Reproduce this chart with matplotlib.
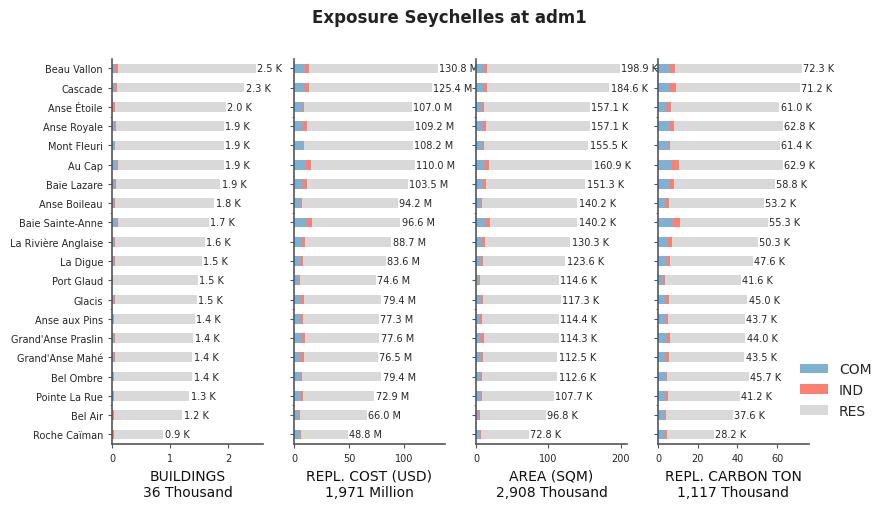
import numpy as np
import matplotlib
matplotlib.use("Agg")
import matplotlib.pyplot as plt
from matplotlib.ticker import MultipleLocator, FixedLocator
import seaborn as sns

sns.set_style("ticks")
plt.rcParams['font.family'] = ['DejaVu Sans']

regions = ["Beau Vallon", "Cascade", "Anse Étoile", "Anse Royale", "Mont Fleuri",
           "Au Cap", "Baie Lazare", "Anse Boileau", "Baie Sainte-Anne",
           "La Rivière Anglaise", "La Digue", "Port Glaud", "Glacis", "Anse aux Pins",
           "Grand'Anse Praslin", "Grand'Anse Mahé", "Bel Ombre", "Pointe La Rue",
           "Bel Air", "Roche Caïman"]

# buildings, thousands
bld_com = [0.05, 0.05, 0.025, 0.05, 0.05, 0.08, 0.05, 0.03, 0.08, 0.03,
           0.03, 0.015, 0.03, 0.03, 0.03, 0.03, 0.03, 0.03, 0.01, 0.01]
bld_ind = [0.05, 0.04, 0.03, 0.02, 0.005, 0.03, 0.02, 0.02, 0.03, 0.02,
           0.02, 0.005, 0.02, 0.005, 0.02, 0.02, 0.005, 0.005, 0.03, 0.03]
bld_res = [2.37, 2.18, 1.905, 1.85, 1.865, 1.81, 1.79, 1.71, 1.55, 1.54,
           1.49, 1.45, 1.41, 1.385, 1.35, 1.33, 1.345, 1.295, 1.17, 0.84]

# replacement cost, million USD
cost_com = [9.6, 9.6, 7.8, 8.4, 9.0, 11.1, 8.4, 6.0, 12.0, 7.5,
            6.6, 4.5, 6.3, 6.6, 7.2, 6.3, 6.6, 6.3, 4.5, 5.4]
cost_ind = [4.2, 4.2, 1.5, 3.6, 0.3, 4.5, 3.6, 1.5, 4.5, 2.7,
            1.8, 0.9, 2.7, 1.5, 2.7, 2.7, 0.6, 1.8, 0.9, 0.9]
cost_res = [117.0, 111.6, 97.7, 97.2, 98.9, 94.4, 91.5, 86.7, 80.1, 78.5,
            75.2, 69.2, 70.4, 69.2, 67.7, 67.5, 72.2, 64.8, 60.6, 42.5]

# area, thousand sqm
area_com = [11.4, 11.4, 8.7, 10.0, 10.0, 12.8, 10.0, 7.3, 14.2, 8.7,
            7.3, 4.6, 7.3, 5.9, 7.3, 7.3, 7.3, 7.3, 4.6, 5.9]
area_ind = [4.1, 4.1, 2.7, 4.1, 1.4, 5.5, 4.1, 1.4, 5.5, 4.1,
            2.7, 1.4, 2.7, 2.7, 4.1, 2.7, 1.4, 1.4, 1.4, 1.4]
area_res = [183.4, 169.1, 145.7, 143.0, 144.1, 142.6, 137.2, 131.5, 120.5, 117.5,
            113.6, 108.6, 107.3, 105.8, 102.9, 102.5, 103.9, 99.0, 90.8, 65.5]

# replacement carbon, thousand ton
carb_com = [5.9, 5.9, 4.7, 5.9, 5.6, 6.9, 5.9, 3.9, 7.5, 4.9,
            4.4, 2.4, 3.9, 3.9, 4.4, 3.9, 3.9, 3.9, 3.6, 3.4]
carb_ind = [2.5, 3.0, 1.7, 2.0, 0.3, 3.6, 2.0, 1.5, 3.6, 2.0,
            1.5, 1.0, 1.5, 1.0, 1.5, 1.5, 0.5, 1.0, 0.3, 1.0]
carb_res = [63.9, 62.3, 54.6, 54.9, 55.5, 52.4, 50.9, 47.8, 44.2, 43.4,
            41.7, 38.2, 39.6, 38.8, 38.1, 38.1, 41.3, 36.3, 33.7, 23.8]

panels = [
    ("BUILDINGS\n36 Thousand", "K", bld_com, bld_ind, bld_res, 1),
    ("REPL. COST (USD)\n1,971 Million", "M", cost_com, cost_ind, cost_res, 50),
    ("AREA (SQM)\n2,908 Thousand", "K", area_com, area_ind, area_res, 100),
    ("REPL. CARBON TON\n1,117 Thousand", "K", carb_com, carb_ind, carb_res, 20),
]

colors = {"COM": "#80b1d3", "IND": "#fb8072", "RES": "#d9d9d9"}
edge = "#555555"

fig = plt.figure(figsize=(8.86, 5.10), dpi=100)
n = len(regions)
ypos = np.arange(n)[::-1]

for i, (label, unit, com, ind, res, step) in enumerate(panels):
    ax = fig.add_axes([0.1264 + i * 0.2054, 0.1275, 0.1704, 0.7553])
    com = np.array(com)
    ind = np.array(ind)
    res = np.array(res)
    ax.barh(ypos, com, height=0.5, color=colors["COM"], linewidth=0, label="COM")
    ax.barh(ypos, ind, left=com, height=0.5, color=colors["IND"], linewidth=0, label="IND")
    ax.barh(ypos, res, left=com + ind, height=0.5, color=colors["RES"], linewidth=0,
            label="RES")
    total = com + ind + res
    for y, t in zip(ypos, total):
        ax.annotate(f"{t:.1f} {unit}", (t, y), xytext=(1, 0), textcoords="offset points",
                    va="center", ha="left", fontsize=7, color="#262626",
                    annotation_clip=False)
    ax.set_xlim(0, total.max() * 1.05)
    ax.set_ylim(-0.5, n - 0.5)
    ax.xaxis.set_major_locator(MultipleLocator(step))
    ax.set_yticks(ypos)
    if i == 0:
        ax.set_yticklabels(regions, fontsize=7)
    else:
        ax.set_yticklabels([])
    ax.yaxis.set_minor_locator(FixedLocator([1.5, 6.5, 11.5, 16.5]))
    ax.tick_params(axis="both", which="major", length=3, labelsize=7, color=edge,
                   labelcolor="#262626")
    ax.tick_params(axis="y", which="minor", length=1.5, color=edge)
    ax.set_xlabel(label, fontsize=10, color="#111111")
    sns.despine(ax=ax)
    for side in ("left", "bottom"):
        ax.spines[side].set_color(edge)
        ax.spines[side].set_linewidth(1.2)

handles, labels = ax.get_legend_handles_labels()
fig.legend(handles, labels, loc="center left", bbox_to_anchor=(0.889, 0.233),
           frameon=False, fontsize=10)

fig.suptitle("Exposure Seychelles at adm1", x=0.507, y=0.965, va="center",
             fontsize=12, fontweight="bold", color="#222222")

fig.savefig("out.png", dpi=100)
